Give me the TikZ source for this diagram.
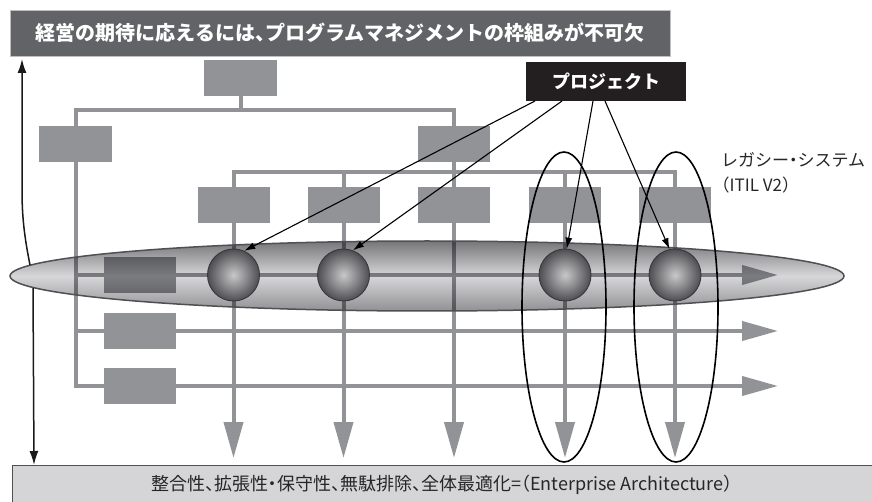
\documentclass[tikz,border=0pt]{standalone}
\usepackage{fontspec}
\setmainfont{Noto Sans CJK JP}
\usetikzlibrary{arrows.meta,shapes.geometric}
\definecolor{gline}{RGB}{146,147,151}
\definecolor{topbar}{RGB}{98,99,103}
\definecolor{projbg}{RGB}{35,31,32}
\definecolor{botbar}{RGB}{213,213,215}
\definecolor{edgec}{RGB}{80,80,84}
\definecolor{elltop}{RGB}{118,118,121}
\definecolor{ellmid}{RGB}{215,215,217}
\definecolor{ellbot}{RGB}{145,145,148}
\definecolor{balllight}{RGB}{200,200,202}
\definecolor{balldark}{RGB}{78,78,82}
\newcommand{\hkl}[1]{\makebox[0.5em][l]{#1}}
\newcommand{\hkr}[1]{\makebox[0.5em][r]{#1}}
\newcommand{\hkc}[1]{\makebox[0.5em][c]{#1}}
\begin{document}
\begin{tikzpicture}[x=1pt,y=-1pt,
  gbox/.style={fill=gline, draw=none, minimum width=72pt, minimum height=36pt, inner sep=0pt},
  gl/.style={draw=gline, line width=4pt},
  garrow/.style={gl, -{Triangle[length=36pt,width=19pt]}},
  ballnode/.style={circle, minimum size=52pt, inner sep=0pt, draw=edgec!70!black, line width=0.9pt, inner color=balllight, outer color=balldark},
  parrow/.style={draw=black, line width=1.1pt, -{Latex[length=11pt,width=7pt]}},
  barrow/.style={draw=black!90, line width=1.5pt, -{Latex[length=14pt,width=9pt]}},
  ring/.style={ellipse, draw=black, line width=1.6pt, minimum width=84pt, minimum height=310pt, inner sep=0pt},
]
\useasboundingbox (0,0) rectangle (872,502);

% bottom bar
\node[fill=botbar, anchor=north west, minimum width=880pt, minimum height=45pt, inner sep=0pt] (ea) at (12,465) {};
\draw[edgec, line width=1pt] (ea.south west) -- (ea.north west) -- (ea.north east);
\node[font=\fontsize{18}{18}\selectfont, text=black!85] (eatext) at (442,485) {整合性\hkl{、}拡張性\hkc{・}保守性\hkl{、}無駄排除\hkl{、}全体最適化=\hkr{（}Enterprise Architecture\hkl{）}};

% top bar
\node[fill=topbar, draw=black!25, line width=0.6pt, minimum width=660pt, minimum height=46pt, inner sep=0pt, text=white, font=\bfseries\fontsize{20}{20}\selectfont] (title) at (340,33) {経営の期待に応えるには\hkl{、}プログラムマネジメントの枠組みが不可欠};

% org boxes
\node[gbox, minimum width=73pt] (root) at (240.5,78) {};
\node[gbox, minimum width=73pt] (la) at (75.5,144) {};
\node[gbox] (lb) at (454,144) {};
\node[gbox] (c1) at (233.5,205) {};
\node[gbox] (c2) at (343.5,205) {};
\node[gbox] (c3) at (454,205) {};
\node[gbox] (c4) at (565,205) {};
\node[gbox] (c5) at (675,205) {};
\coordinate (vend) at (0,458);
\coordinate (hend) at (778,0);
\coordinate (r1) at (0,275);
\coordinate (r2) at (0,331);
\coordinate (r3) at (0,386);

% connectors
\draw[gl] (root.south) -- ++(0,14);
\draw[gl] (la.north) -- ++(0,-16) -| (lb.north);
\draw[gl] (lb.south) -- ++(0,10);
\draw[gl] (c1.north) -- ++(0,-15) -| (c5.north);
\draw[gl] (c2.north) -- ++(0,-15);
\draw[gl] (c3.north) -- ++(0,-15);
\draw[gl] (c4.north) -- ++(0,-15);
\foreach \c in {c1,c2,c3,c4,c5} {\draw[garrow] (\c.south) -- (\c.south |- vend);}
\draw[garrow] (la.south) |- (hend |- r3);
\draw[garrow] (la.south |- r1) -- (hend |- r1);
\draw[garrow] (la.south |- r2) -- (hend |- r2);
\node[gbox] (s1) at (140,275) {};
\node[gbox] (s2) at (140,331) {};
\node[gbox] (s3) at (140,386) {};

% legacy ellipse (multiplied over the lines)
\begin{scope}[blend mode=multiply]
\node[ellipse, minimum width=834pt, minimum height=70pt, inner sep=0pt, top color=elltop, bottom color=ellbot, middle color=ellmid] (legacy) at (427,276) {};
\end{scope}
\node[ellipse, minimum width=834pt, minimum height=70pt, inner sep=0pt, draw=edgec, line width=1.5pt] (legacyedge) at (427,276) {};

% balls
\node[ballnode] (b1) at (233.5,275) {};
\node[ballnode] (b2) at (343.5,275) {};
\node[ballnode] (b3) at (565,275) {};
\node[ballnode] (b4) at (675,275) {};

% rings
\node[ring] (ringA) at (564,307) {};
\node[ring] (ringB) at (676,307) {};

% project
\node[fill=projbg, minimum width=160pt, minimum height=39pt, inner sep=0pt, text=white, font=\bfseries\fontsize{18}{18}\selectfont] (proj) at (606,81.5) {プロジェクト};
\coordinate (pa) at (535,101);
\coordinate (pb) at (562,101);
\coordinate (pc) at (593,101);
\coordinate (pd) at (605,101);
\draw[parrow] (pa) -- (b1.66);
\draw[parrow] (pb) -- (b2.69);
\draw[parrow] (pc) -- (b3.86);
\draw[parrow] (pd) -- (b4.102);

% legacy label
\node[anchor=west, align=left, inner sep=0pt, font=\fontsize{17}{25}\selectfont, text=black!85] (lbl) at (721,173) {レガシー\hkc{・}システム\\\hkr{（}ITIL V2\hkl{）}};

% left arrows
\coordinate (eU) at (30,265);
\coordinate (tUp) at (22,59);
\coordinate (eL) at (33,288);
\coordinate (tDown) at (34,465);
\draw[barrow] (eU) .. controls (24,235) and (22,215) .. (22,190) -- (tUp);
\draw[barrow] (eL) -- (tDown);
\end{tikzpicture}
\end{document}
